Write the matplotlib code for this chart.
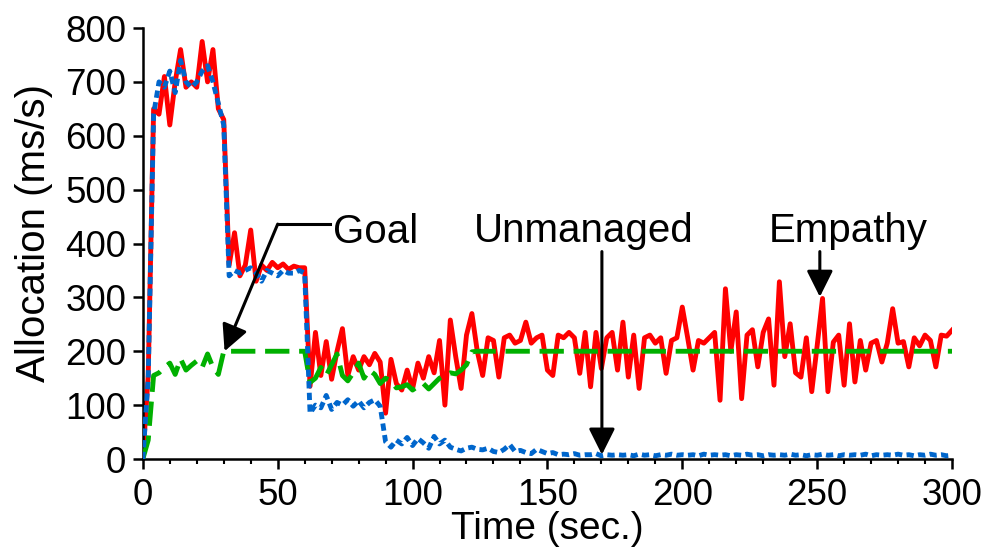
import numpy as np
import matplotlib
matplotlib.use("Agg")
from matplotlib import pyplot as plt
from matplotlib.ticker import MultipleLocator

plt.rcParams['font.family'] = ['Liberation Sans', 'DejaVu Sans']

# sample times (sec.), one sample every 2 s
time = np.arange(0, 301, 2)

# Empathy allocation (ms/s), rows of 10 samples = 20 s
empathy = [
    0, 155, 650, 640, 710, 620, 700, 760, 690, 700,
    690, 775, 700, 760, 650, 630, 360, 420, 340, 360,
    425, 330, 360, 350, 365, 355, 362, 352, 358, 355,
    355, 135, 235, 155, 218, 148, 200, 242, 155, 190,
    165, 190, 175, 196, 180, 85, 185, 140, 128, 165,
    130, 178, 150, 190, 160, 220, 100, 258, 190, 131,
    230, 270, 200, 155, 225, 220, 152, 225, 230, 215,
    220, 254, 215, 225, 230, 165, 155, 230, 225, 235,
    225, 159, 235, 134, 235, 168, 225, 235, 165, 254,
    152, 230, 131, 225, 230, 215, 225, 159, 220, 225,
    282, 225, 165, 220, 215, 225, 235, 109, 316, 200,
    273, 112, 230, 240, 171, 235, 260, 137, 329, 190,
    251, 160, 152, 225, 125, 210, 298, 125, 217, 230,
    137, 251, 143, 220, 165, 215, 220, 180, 215, 279,
    215, 218, 171, 225, 210, 230, 220, 171, 230, 228,
    239,
]

# Unmanaged allocation (ms/s)
unmanaged = [
    0, 150, 640, 700, 690, 720, 680, 740, 700, 690,
    700, 720, 730, 700, 660, 620, 340, 350, 345, 350,
    355, 345, 330, 350, 345, 340, 350, 345, 345, 350,
    345, 85, 100, 95, 118, 92, 105, 100, 110, 98,
    108, 95, 105, 110, 98, 32, 22, 35, 28, 40,
    25, 38, 30, 20, 42, 28, 35, 22, 18, 15,
    20, 22, 18, 17, 20, 14, 12, 18, 27, 14,
    16, 12, 10, 18, 14, 10, 12, 8, 9, 8,
    10, 7, 8, 8, 10, 6, 8, 7, 8, 7,
    8, 6, 9, 7, 8, 6, 8, 7, 9, 7,
    8, 7, 8, 6, 9, 7, 8, 7, 8, 6,
    8, 7, 9, 7, 8, 6, 8, 7, 8, 7,
    9, 7, 8, 6, 8, 7, 9, 7, 8, 6,
    8, 7, 8, 7, 9, 6, 8, 7, 8, 7,
    9, 7, 8, 6, 8, 7, 9, 7, 8, 6,
    7,
]

# Goal allocation (ms/s)
goal = [
    0, 35, 155, 160, 170, 178, 157, 186, 165, 174,
    182, 170, 195, 170, 157, 200, 200, 200, 200, 200,
    200, 200, 200, 200, 200, 200, 200, 200, 200, 200,
    200, 142, 150, 170, 155, 175, 195, 155, 145, 160,
    178, 150, 165, 157, 140, 150, 145, 132, 134, 138,
    128, 135, 140, 130, 140, 150, 155, 160, 158, 165,
    175, 199, 200, 200, 200, 200, 200, 200, 200, 200,
    200, 200, 200, 200, 200, 200, 200, 200, 200, 200,
    200, 200, 200, 200, 200, 200, 200, 200, 200, 200,
    200, 200, 200, 200, 200, 200, 200, 200, 200, 200,
    200, 200, 200, 200, 200, 200, 200, 200, 200, 200,
    200, 200, 200, 200, 200, 200, 200, 200, 200, 200,
    200, 200, 200, 200, 200, 200, 200, 200, 200, 200,
    200, 200, 200, 200, 200, 200, 200, 200, 200, 200,
    200, 200, 200, 200, 200, 200, 200, 200, 200, 200,
    200,
]

fig = plt.figure(figsize=(9.85, 5.48), dpi=100)
ax = fig.add_axes([0.145, 0.1624, 0.8215, 0.7865])

ax.plot(time, empathy, color='#FF0000', lw=3.5, zorder=2)
ax.plot(time, goal, color='#00B000', lw=3.5, linestyle=(0, (5, 2)), zorder=3)
ax.plot(time, unmanaged, color='#0066CC', lw=3.5, linestyle=(0, (1.5, 0.9)), zorder=4)

ax.set_xlim(0, 300)
ax.set_ylim(0, 800)
ax.xaxis.set_major_locator(MultipleLocator(50))
ax.xaxis.set_minor_locator(MultipleLocator(10))
ax.yaxis.set_major_locator(MultipleLocator(100))

for s in ['top', 'right']:
    ax.spines[s].set_visible(False)
for s in ['left', 'bottom']:
    ax.spines[s].set_linewidth(1.8)

ax.tick_params(axis='both', which='major', direction='out', length=7, width=1.8,
               labelsize=26.5, pad=5)
ax.tick_params(axis='x', which='major', pad=7)
ax.tick_params(axis='x', which='minor', direction='out', length=3.5, width=1.5)

ax.set_xlabel('Time (sec.)', fontsize=28)
ax.set_ylabel('Allocation (ms/s)', fontsize=29)
ax.xaxis.set_label_coords(0.5, -0.121)
ax.yaxis.set_label_coords(-0.111, 0.524)

# annotations
arrow = dict(arrowstyle='-|>,head_length=0.8,head_width=0.4', color='black',
             lw=2.2, shrinkA=0, shrinkB=0, mutation_scale=20)

ax.text(70.4, 401, 'Goal', fontsize=29, ha='left', va='baseline')
ax.plot([69.3, 50], [436, 436], color='black', lw=2.2, clip_on=False, zorder=5)
ax.annotate('', xy=(30.3, 200), xytext=(50, 436), arrowprops=arrow, zorder=5)

ax.text(163.3, 402, 'Unmanaged', fontsize=29, ha='center', va='baseline')
ax.annotate('', xy=(170.2, 8), xytext=(170.2, 385), arrowprops=arrow, zorder=5)

ax.text(261.4, 402, 'Empathy', fontsize=29, ha='center', va='baseline')
ax.annotate('', xy=(251, 301), xytext=(251, 385), arrowprops=arrow, zorder=5)

fig.savefig('out.png', dpi=100)
